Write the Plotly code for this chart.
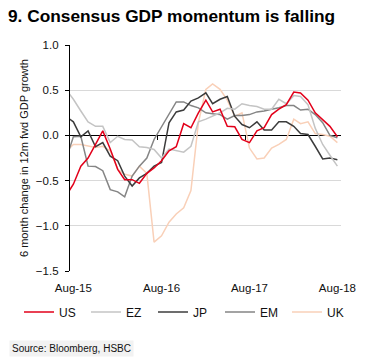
import pandas as pd
import plotly.graph_objects as go

# Monthly observations, Jul-15 .. Aug-18
dates = pd.date_range("2015-07-01", "2018-08-01", freq="MS")

us = [-0.67, -0.54, -0.34, -0.25, -0.10, 0.05, -0.15, -0.375, -0.49, -0.49, -0.53, -0.42, -0.36,
      -0.28, -0.17, -0.125, 0.13, 0.085, 0.25, 0.39, 0.26, 0.29, 0.10, 0.095, -0.045, -0.08,
      0.05, 0.085, 0.23, 0.29, 0.34, 0.48, 0.47, 0.39, 0.25, 0.17, 0.10, -0.015]
ez = [0.51, 0.40, 0.27, 0.15, 0.10, 0.10, -0.08, -0.01, -0.045, -0.05, -0.125, -0.135, -0.155,
      -0.25, -0.15, -0.17, -0.185, -0.12, 0.15, 0.18, 0.21, 0.25, 0.30, 0.29, 0.35, 0.33,
      0.32, 0.29, 0.29, 0.40, 0.35, 0.44, 0.43, 0.34, 0.08, -0.10, -0.22, -0.34]
jp = [0.21, 0.15, -0.015, 0.05, -0.125, -0.08, -0.23, -0.28, -0.45, -0.56, -0.47, -0.42, -0.34,
      -0.30, 0.14, 0.26, 0.28, 0.38, 0.415, 0.47, 0.35, 0.40, 0.43, 0.21, 0.12, 0.085,
      0.15, 0.06, 0.06, 0.15, 0.15, 0.10, 0.02, 0.01, -0.12, -0.26, -0.25, -0.27]
em = [-0.27, -0.015, -0.01, -0.34, -0.345, -0.39, -0.60, -0.625, -0.68, -0.45, -0.34, -0.25, -0.045,
      0.095, 0.25, 0.37, 0.37, 0.33, 0.305, 0.25, 0.24, 0.23, 0.18, 0.22, 0.22, 0.23,
      0.26, 0.27, 0.29, 0.305, 0.33, 0.33, 0.28, 0.29, 0.23, 0.14, 0.0, -0.025]
uk = [-0.18, -0.10, -0.10, -0.12, -0.135, -0.12, -0.17, -0.375, -0.43, -0.45, -0.34, -0.42, -1.18,
      -1.11, -0.96, -0.87, -0.80, -0.61, 0.14, 0.51, 0.57, 0.51, 0.39, 0.21, 0.25, -0.14,
      -0.26, -0.25, -0.14, -0.10, -0.045, 0.18, 0.13, 0.15, 0.02, 0.01, -0.01, -0.08]

series_names = ["US", "EZ", "JP", "EM", "UK"]
series_vals = [us, ez, jp, em, uk]
colors = ["#e2001a", "#c4c4c4", "#3c3c3c", "#858585", "#f9d0b8"]

title = "9. Consensus GDP momentum is falling"
y_title = "6 month change in 12m fwd GDP growth"
source = "Source: Bloomberg, HSBC"
y_ticks = [1.0, 0.5, 0.0, -0.5, -1.0, -1.5]
x_tick_dates = ["2015-08-01", "2016-08-01", "2017-08-01", "2018-08-01"]
x_tick_labels = ["Aug-15", "Aug-16", "Aug-17", "Aug-18"]
zero_tick_dates = ["2016-07-15", "2017-07-15"]

fig = go.Figure()
# draw UK first so US ends up on top; legend reversed to keep US..UK order
for name, vals, col in reversed(list(zip(series_names, series_vals, colors))):
    fig.add_trace(go.Scatter(x=dates, y=vals, name=name, mode="lines",
                             line=dict(color=col, width=1.5)))
# helper (empty) trace so the tick-mark axis on the zero line is drawn
fig.add_trace(go.Scatter(x=[dates[0]], y=[None], xaxis="x2", mode="lines",
                         showlegend=False, hoverinfo="skip"))

x_range = ["2015-07-18", "2018-08-16"]

fig.update_layout(
    width=367, height=358,
    margin=dict(l=70, r=26, t=45, b=87, autoexpand=False),
    paper_bgcolor="white", plot_bgcolor="white",
    font=dict(family="Liberation Sans, Arial, sans-serif", size=11, color="#111111"),
    title=dict(text="<b>" + title + "</b>", x=8 / 367, xref="container", xanchor="left",
               y=1 - 16 / 358, yref="container", yanchor="middle",
               font=dict(size=17.3, color="#000000")),
    showlegend=True,
    legend=dict(orientation="h", traceorder="reversed", xref="paper", x=(19 - 70) / 271,
                xanchor="left", y=(271 - 312) / 226, yanchor="middle",
                font=dict(size=12), entrywidth=22, entrywidthmode="pixels", itemwidth=30,
                bgcolor="rgba(0,0,0,0)"),
    xaxis=dict(
        range=x_range, type="date",
        tickvals=x_tick_dates, ticktext=x_tick_labels,
        showgrid=False, showline=False, zeroline=False, ticks="",
        ticklabelstandoff=8, tickfont=dict(size=11.5),
    ),
    xaxis2=dict(overlaying="x", anchor="free", position=0.6, range=x_range, type="date",
                tickvals=zero_tick_dates, showticklabels=False, ticks="outside",
                ticklen=4, tickcolor="#000000", tickwidth=1, showgrid=False,
                showline=False, zeroline=False, side="bottom"),
    yaxis=dict(
        range=[-1.5, 1.0], tickvals=y_ticks, tickformat=".1f",
        showgrid=True, gridcolor="#d9d9d9", gridwidth=1,
        zeroline=True, zerolinecolor="#000000", zerolinewidth=1.3,
        showline=True, linecolor="#000000", linewidth=1.3,
        ticks="outside", ticklen=4, tickcolor="#000000",
        ticklabelstandoff=4, tickfont=dict(size=11.5),
    ),
)

fig.add_annotation(text=y_title, textangle=-90, xref="paper", yref="paper",
                   x=(24 - 70) / 271, y=0.5, xanchor="center", yanchor="middle",
                   showarrow=False, font=dict(size=11))
fig.add_annotation(text=source, xref="paper", yref="paper",
                   x=(9 - 70) / 271, y=(271 - 348) / 226, xanchor="left", yanchor="middle",
                   showarrow=False, font=dict(size=10), bgcolor="#f2f2f2", borderpad=2)

fig.write_html("out.html", config={"displayModeBar": False},
               post_script="document.body.style.margin='0px';")
